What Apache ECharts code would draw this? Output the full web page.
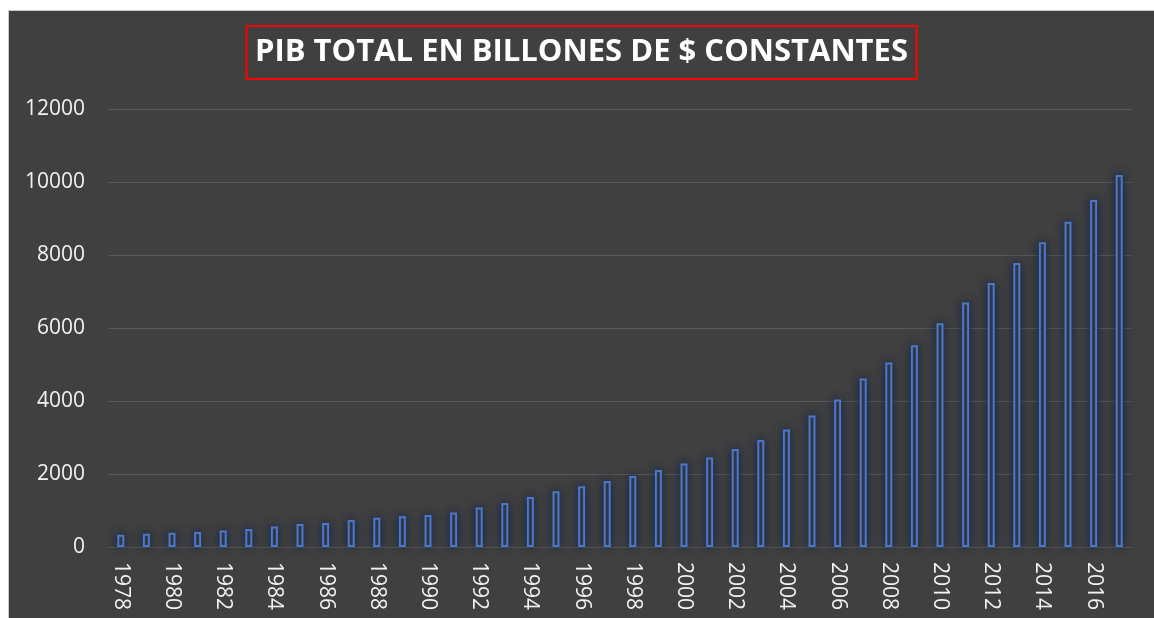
<!DOCTYPE html>
<html>
<head>
<meta charset="utf-8">
<script src="https://cdn.jsdelivr.net/npm/echarts@6/dist/echarts.min.js"></script>
<style>
  html, body { margin: 0; padding: 0; background: #fff; }
  #chart {
    position: absolute;
    left: 8px;
    top: 10px;
    width: 1146px;
    height: 608px;
    background: #404040;
    border-top: 1px solid #c8c8c8;
    border-left: 1px solid #c8c8c8;
    box-sizing: border-box;
  }
</style>
</head>
<body>
<div id="chart"></div>
<script>
// años 1978 - 2017
const years = [];
for (let y = 1978; y <= 2017; y++) years.push(String(y));

// PIB total, billones de $ constantes
const pib = [
  337, 360, 390, 410, 450, 490, 560, 630, 660, 740,
  800, 840, 877, 942, 1079, 1205, 1370, 1526, 1663, 1808,
  1945, 2110, 2285, 2449, 2685, 2930, 3217, 3601, 4040, 4616,
  5055, 5530, 6133, 6700, 7230, 7778, 8346, 8914, 9506, 10192
];

const yTicks = { min: 0, max: 12000, interval: 2000 };

const chart = echarts.init(document.getElementById('chart'));

chart.setOption({
  backgroundColor: '#404040',
  animation: false,
  title: {
    text: 'PIB TOTAL EN BILLONES DE $ CONSTANTES',
    left: 'center',
    top: 15,
    padding: [11, 9, 11, 9],
    borderColor: '#ff0000',
    borderWidth: 2,
    textStyle: {
      color: '#ffffff',
      fontFamily: 'Open Sans',
      fontWeight: 'bold',
      fontSize: 31
    }
  },
  grid: {
    left: 99,
    right: 22,
    top: 98,
    bottom: 71
  },
  xAxis: {
    type: 'category',
    data: years,
    axisTick: { show: false },
    axisLine: { lineStyle: { color: '#595959', width: 1 } },
    axisLabel: {
      interval: 1,
      rotate: -90,
      margin: 15,
      color: '#f2f2f2',
      fontFamily: 'Open Sans',
      fontSize: 21
    }
  },
  yAxis: {
    type: 'value',
    min: yTicks.min,
    max: yTicks.max,
    interval: yTicks.interval,
    axisLine: { show: false },
    axisTick: { show: false },
    splitLine: { lineStyle: { color: '#595959', width: 1 } },
    axisLabel: {
      margin: 23,
      color: '#f2f2f2',
      fontFamily: 'Open Sans',
      fontSize: 21,
      formatter: v => String(v)
    }
  },
  series: [{
    type: 'bar',
    data: pib,
    barWidth: 7,
    itemStyle: {
      color: '#3d3f44',
      borderColor: '#4a78cc',
      borderWidth: 2,
      shadowColor: 'rgba(20,35,70,0.95)',
      shadowBlur: 10
    }
  }]
});
</script>
</body>
</html>
